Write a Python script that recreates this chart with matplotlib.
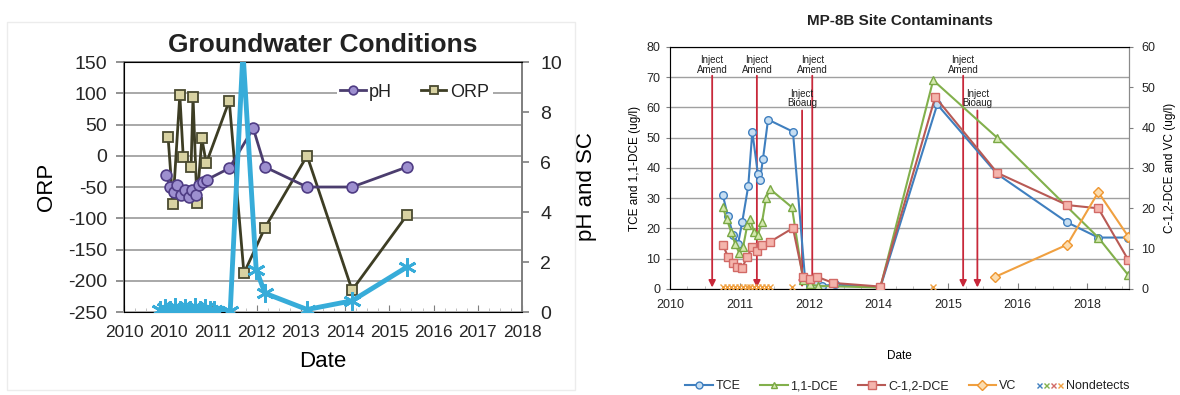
import numpy as np
import matplotlib.pyplot as plt
from matplotlib.lines import Line2D
from matplotlib.legend_handler import HandlerTuple
from matplotlib.patches import Rectangle

plt.rcParams['font.family'] = ['Liberation Sans', 'DejaVu Sans']
plt.rcParams['axes.unicode_minus'] = False
plt.rcParams['text.color'] = '#222222'
plt.rcParams['xtick.color'] = '#7f7f7f'
plt.rcParams['ytick.color'] = '#7f7f7f'
plt.rcParams['xtick.labelcolor'] = '#262626'
plt.rcParams['ytick.labelcolor'] = '#262626'

# ---- groundwater conditions (left panel) ----
gw_tick_labels = ['2010', '2010', '2011', '2012', '2013', '2014', '2015', '2016', '2017', '2018']

orp_dates = [2010.90, 2011.00, 2011.14, 2011.21, 2011.37, 2011.41, 2011.49, 2011.59, 2011.68,
             2012.15, 2012.45, 2012.88, 2013.74, 2014.66, 2015.78]
orp = [30, -77, 97, -2, -18, 94, -75, 28, -12, 88, -188, -115, 0, -215, -95]

ph_dates = [2010.86, 2010.94, 2011.02, 2011.08, 2011.16, 2011.25, 2011.33, 2011.39, 2011.47,
            2011.53, 2011.61, 2011.70, 2012.15, 2012.64, 2012.88, 2013.74, 2014.66, 2015.78]
ph = [5.5, 5.0, 4.8, 5.1, 4.7, 4.9, 4.6, 4.9, 4.7, 5.1, 5.2, 5.3, 5.75, 7.35, 5.8, 5.0, 5.0, 5.8]

sc_dates = [2010.74, 2010.84, 2010.94, 2011.04, 2011.14, 2011.25, 2011.35, 2011.45, 2011.55,
            2011.65, 2011.76, 2011.84, 2012.17, 2012.43, 2012.70, 2012.88, 2013.74, 2014.66, 2015.78]
sc = [0.1, 0.15, 0.1, 0.2, 0.1, 0.15, 0.1, 0.2, 0.1, 0.15, 0.1, 0.1, 0.05, 10.4, 1.7, 0.75, 0.1, 0.45, 1.8]

# ---- MP-8B contaminants (right panel) ----
mp_tick_labels = ['2010', '2011', '2012', '2014', '2015', '2016', '2018']

tce_dates = [2011.04, 2011.14, 2011.24, 2011.34, 2011.42, 2011.54, 2011.62, 2011.73, 2011.77,
             2011.83, 2011.93, 2012.42, 2012.66, 2012.76, 2012.86, 2012.99, 2013.25, 2014.14,
             2015.26, 2016.44, 2017.82, 2018.43, 2019.02]
tce = [31, 24, 18, 15, 22, 34, 52, 38, 36, 43, 56, 52, 3, 1, 1.5, 1, 1.5, 0.5, 61, 38, 22, 17, 17]

dce11_dates = [2011.04, 2011.12, 2011.20, 2011.28, 2011.36, 2011.44, 2011.52, 2011.58, 2011.65,
               2011.73, 2011.81, 2011.89, 2011.97, 2012.40, 2012.62, 2012.76, 2012.92, 2014.14,
               2015.18, 2016.44, 2018.43, 2019.02]
dce11 = [27, 23, 19, 15, 12, 14, 21, 23, 19, 18, 22, 30, 33, 27, 3, 1.5, 1, 0.5, 69, 50, 17, 4.6]

cdce_dates = [2011.04, 2011.14, 2011.24, 2011.32, 2011.42, 2011.52, 2011.62, 2011.71, 2011.81,
              2011.97, 2012.42, 2012.62, 2012.76, 2012.90, 2013.21, 2014.14, 2015.22, 2016.44,
              2017.82, 2018.43, 2019.02]
cdce = [11, 8, 6.5, 5.5, 5.2, 8, 10.4, 9.5, 10.9, 11.7, 15.1, 3, 2.5, 3, 1.5, 0.6, 47.6, 28.8,
        20.8, 20, 7.2]

vc_dates = [2016.40, 2017.82, 2018.43, 2019.02]
vc = [3, 11, 24, 13]

nd_dates = [2011.04, 2011.12, 2011.20, 2011.28, 2011.36, 2011.44, 2011.52, 2011.58, 2011.65,
            2011.73, 2011.81, 2011.89, 2011.97, 2012.40, 2015.18]
nd = [0.5] * len(nd_dates)

inject_dates = [2010.83, 2011.71, 2012.80, 2015.77, 2012.60, 2016.05]
inject_labels = ['Inject\nAmend'] * 4 + ['Inject\nBioaug'] * 2

GW_STEP = 330 / 365.25
MP_STEP = 500 / 365.25
RED = '#c8283a'

fig = plt.figure(figsize=(11.8, 3.95), dpi=100)
fig.add_artist(Rectangle((0.006, 0.013), 0.481, 0.932, transform=fig.transFigure,
                         fill=False, ec='#ececec', lw=1))

# left panel
ax = fig.add_axes([0.1051, 0.2101, 0.3373, 0.6329])
ax2 = ax.twinx()

orp_line, = ax.plot(orp_dates, orp, color='#3d3d24', lw=2, marker='s', ms=7.8,
                    mfc='#d8d2a2', mec='#4a4a30', mew=1.3, label='ORP', zorder=3)
ph_line, = ax2.plot(ph_dates, ph, color='#4b3d6e', lw=2, marker='o', ms=7.8,
                    mfc='#9d8fcf', mec='#4f3c84', mew=1.2, label='pH', zorder=3)
ax2.plot(sc_dates, sc, color='#37acd9', lw=3.5, marker=(6, 2, 0), ms=13, mew=2,
         zorder=4)

ax.set_xlim(2010, 2010 + 9 * GW_STEP)
ax.set_xticks(2010 + GW_STEP * np.arange(10))
ax.set_xticklabels(gw_tick_labels)
ax.set_xticks(2010 + np.arange(0, 9 * GW_STEP, GW_STEP / 4), minor=True)
ax.set_ylim(-250, 150)
ax.set_yticks(range(-250, 151, 50))
ax2.set_ylim(0, 10)
ax2.set_yticks(range(0, 11, 2))

ax.grid(axis='y', color='#a8a8a8', lw=1.4)
ax.set_axisbelow(True)
for s in ax.spines.values():
    s.set_color('#808080')
    s.set_linewidth(1.3)
ax.spines['bottom'].set_color('#b5b5b5')
ax2.spines['right'].set_color('#808080')
ax2.spines['right'].set_linewidth(1.3)

ax.tick_params(axis='y', labelsize=14, length=6, width=1.2, pad=6)
ax.tick_params(axis='x', which='major', labelsize=12.5, direction='in', length=5, pad=9)
ax.tick_params(axis='x', which='minor', direction='in', length=3, color='#b5b5b5')
ax2.tick_params(axis='y', labelsize=14, length=5, width=1.2, pad=8)

ax.set_title('Groundwater Conditions', fontsize=19, fontweight='bold', pad=7)
ax.set_ylabel('ORP', fontsize=16, labelpad=8)
ax2.set_ylabel('pH and SC', fontsize=16, labelpad=10)
ax.set_xlabel('Date', fontsize=16, labelpad=8)

leg = ax2.legend([ph_line, orp_line], ['pH', 'ORP'], loc='center', bbox_to_anchor=(0.73, 0.88),
                 ncol=2, fontsize=13, frameon=True, facecolor='white', edgecolor='none',
                 framealpha=1, handlelength=1.4, handletextpad=0.2, columnspacing=1.6,
                 borderpad=0.2, markerscale=0.8)

# right panel
bx = fig.add_axes([0.5678, 0.2684, 0.3890, 0.6127])
bx2 = bx.twinx()

bx.set_xlim(2010, 2010 + 6.6 * MP_STEP)
bx.set_xticks(2010 + MP_STEP * np.arange(7))
bx.set_xticklabels(mp_tick_labels)
bx.set_xticks(2010 + np.arange(0, 6.6 * MP_STEP, MP_STEP / 4), minor=True)
bx.set_ylim(0, 80)
bx.set_yticks(range(0, 81, 10))
bx2.set_ylim(0, 60)
bx2.set_yticks(range(0, 61, 10))

for x, lab in zip(inject_dates, inject_labels):
    bioaug = 'Bioaug' in lab
    y_txt, y_top = (63, 59) if bioaug else (74, 70.5)
    bx.annotate('', xy=(x, 0.5), xytext=(x, y_top),
                arrowprops=dict(arrowstyle='-|>', color=RED, lw=1.3, mutation_scale=10,
                                shrinkA=0, shrinkB=0), zorder=2)
    bx.text(x, y_txt, lab, ha='center', va='center', fontsize=7, linespacing=0.95,
            color='#202020', zorder=5)

tce_line, = bx.plot(tce_dates, tce, color='#3f7fbf', lw=1.5, marker='o', ms=5.5,
                    mfc='#c6def2', mec='#3f7fbf', mew=1, label='TCE', zorder=3)
dce_line, = bx.plot(dce11_dates, dce11, color='#82b04c', lw=1.5, marker='^', ms=5.5,
                    mfc='#d4e8ae', mec='#7aa844', mew=1, label='1,1-DCE', zorder=3)
cdce_line, = bx2.plot(cdce_dates, cdce, color='#b85a55', lw=1.5, marker='s', ms=6,
                      mfc='#f4b4ac', mec='#d26a66', mew=1, label='C-1,2-DCE', zorder=3)
vc_line, = bx2.plot(vc_dates, vc, color='#f0a040', lw=1.5, marker='D', ms=5.5,
                    mfc='#fcdcae', mec='#ee9630', mew=1, label='VC', zorder=3)
bx2.plot(nd_dates, nd, ls='none', marker='x', ms=4, mew=1, color='#f0a040', zorder=3)

bx.grid(axis='y', color='#a0a0a0', lw=1)
bx.set_axisbelow(True)
for s in bx.spines.values():
    s.set_color('#8a8a8a')
bx.spines['bottom'].set_color('#b5b5b5')
bx2.spines['right'].set_color('#8a8a8a')

bx.tick_params(axis='y', labelsize=9, length=3, pad=4)
bx.tick_params(axis='x', which='major', labelsize=9, direction='in', length=4, pad=7)
bx.tick_params(axis='x', which='minor', direction='in', length=2, color='#b5b5b5')
bx2.tick_params(axis='y', labelsize=9, length=3, pad=6)

bx.set_title('MP-8B Site Contaminants', fontsize=11, fontweight='bold', pad=16)
bx.set_xlabel('Date', fontsize=8.5, labelpad=28)
bx.set_ylabel('TCE and 1,1-DCE (ug/l)', fontsize=8.5, labelpad=4)
bx2.set_ylabel('C-1,2-DCE and VC (ug/l)', fontsize=8.5, labelpad=6)

nd_handle = tuple(Line2D([], [], ls='none', marker='x', ms=4, mew=1, color=c)
                  for c in ['#3f7fbf', '#82b04c', '#d26a66', '#f0a040'])
fig.legend([tce_line, dce_line, cdce_line, vc_line, nd_handle],
           ['TCE', '1,1-DCE', 'C-1,2-DCE', 'VC', 'Nondetects'],
           handler_map={tuple: HandlerTuple(ndivide=None, pad=0)},
           loc='center', bbox_to_anchor=(0.769, 0.022), ncol=5, frameon=False,
           fontsize=9, handlelength=2.2, handletextpad=0.2, columnspacing=1.6,
           markerscale=0.9)

fig.savefig('out.png', dpi=100, facecolor='white')
